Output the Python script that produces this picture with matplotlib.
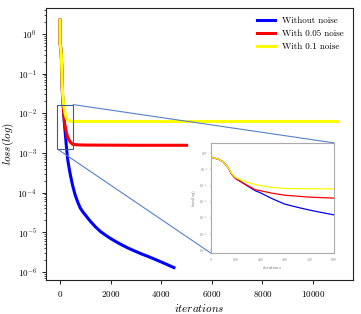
import matplotlib
matplotlib.use('Agg')
import matplotlib.pyplot as plt
from matplotlib.patches import Rectangle, ConnectionPatch

plt.rcParams.update({
    'font.family': 'serif',
    'font.serif': ['cmr10'],
    'mathtext.fontset': 'cm',
    'axes.formatter.use_mathtext': True,
    'axes.unicode_minus': False,
})

# loss curves
blue_x = [0, 3, 10, 30, 50, 70, 85, 100, 140, 180, 200, 250, 300, 350, 400, 450, 500,
          600, 700, 800, 900, 1050, 1200, 1400, 1600, 1800, 2000, 2200, 2400, 2700,
          3000, 3200, 3500, 3750, 4000, 4500]
blue_y = [2.2, 0.56, 0.52, 0.44, 0.3, 0.13, 0.05, 0.028, 0.0115, 0.0048, 0.0036, 0.0015,
          7.0e-4, 4.5e-4, 3.0e-4, 2.1e-4, 1.5e-4, 8.7e-5, 5.8e-5, 4.1e-5, 3.3e-5, 2.5e-5,
          1.9e-5, 1.38e-5, 1.05e-5, 8.5e-6, 7.0e-6, 5.9e-6, 5.0e-6, 4.0e-6, 3.3e-6,
          2.9e-6, 2.45e-6, 2.1e-6, 1.8e-6, 1.3e-6]

red_x = [0, 3, 10, 30, 50, 70, 85, 100, 140, 180, 200, 250, 300, 400, 500, 700, 1000,
         2000, 3000, 4000, 5000]
red_y = [2.2, 0.56, 0.52, 0.44, 0.3, 0.13, 0.05, 0.028, 0.012, 0.0055, 0.0048, 0.0033,
         0.0025, 0.0019, 0.00165, 0.0016, 0.00158, 0.00157, 0.00156, 0.00156, 0.00156]

yellow_x = [0, 3, 10, 30, 50, 70, 85, 100, 140, 180, 220, 260, 300, 400, 500, 1000,
            3000, 6000, 9000, 11000]
yellow_y = [2.2, 0.56, 0.52, 0.44, 0.3, 0.13, 0.055, 0.032, 0.017, 0.0115, 0.0088,
            0.0073, 0.0066, 0.0063, 0.0062, 0.0062, 0.0062, 0.0062, 0.0062, 0.0062]

labels = ['Without noise', 'With 0.05 noise', 'With 0.1 noise']
colors = ['blue', 'red', 'yellow']

# zoom box on the main axes
box_x = [-100, 520]
box_y = [1.25e-3, 1.65e-2]

fig = plt.figure(figsize=(3.61, 3.14), dpi=100)
ax = fig.add_axes([0.127, 0.108, 0.851, 0.867])

series = [(blue_x, blue_y), (red_x, red_y), (yellow_x, yellow_y)]
for (x, y), c, lab in zip(series, colors, labels):
    ax.plot(x, y, color=c, lw=2.2, label=lab)
ax.set_yscale('log')
ax.set_xlim(-560, 11580)
ax.set_ylim(6.3e-7, 4.5)
ax.set_xticks([0, 2000, 4000, 6000, 8000, 10000])
ax.tick_params(labelsize=6.5, length=3, width=0.6)
ax.tick_params(which='minor', length=1.8, width=0.5)
ax.set_xlabel('$iterations$', fontsize=8, labelpad=2)
ax.set_ylabel('$loss(log)$', fontsize=8, labelpad=1)
for s in ax.spines.values():
    s.set_linewidth(0.8)
    s.set_color('#222222')
ax.legend(loc='upper right', frameon=False, fontsize=6.5, handlelength=2.0,
          borderaxespad=0.6)

# inset with the first 500 iterations
axin = fig.add_axes([0.584, 0.194, 0.341, 0.351])
for (x, y), c in zip(series, colors):
    axin.plot(x, y, color=c, lw=0.9)
axin.set_yscale('log')
axin.set_xlim(0, 500)
axin.set_ylim(6.3e-7, 4.5)
axin.set_xticks([0, 100, 200, 300, 400, 500])
axin.set_yticks([1, 1e-1, 1e-2, 1e-3, 1e-4, 1e-5, 1e-6])
axin.minorticks_off()
axin.tick_params(labelsize=2.5, length=1, width=0.3, pad=1, colors='#777777')
axin.set_xlabel('$iterations$', fontsize=3, labelpad=1, color='#555555')
axin.set_ylabel('$loss(log)$', fontsize=3, labelpad=1, color='#555555')
for s in axin.spines.values():
    s.set_linewidth(0.8)
    s.set_color('#aaaaaa')

rect = Rectangle((box_x[0], box_y[0]), box_x[1] - box_x[0], box_y[1] - box_y[0],
                 fill=False, edgecolor='#3d5a9e', lw=0.8, zorder=5)
ax.add_patch(rect)
for xa, ya, xb, yb in [(box_x[1], box_y[1], 1, 1), (box_x[0], box_y[0], 0, 0)]:
    con = ConnectionPatch(xyA=(xa, ya), coordsA=ax.transData,
                          xyB=(xb, yb), coordsB=axin.transAxes,
                          color='#5580d0', lw=0.8, zorder=6)
    fig.add_artist(con)

fig.savefig('out.png', dpi=100)
